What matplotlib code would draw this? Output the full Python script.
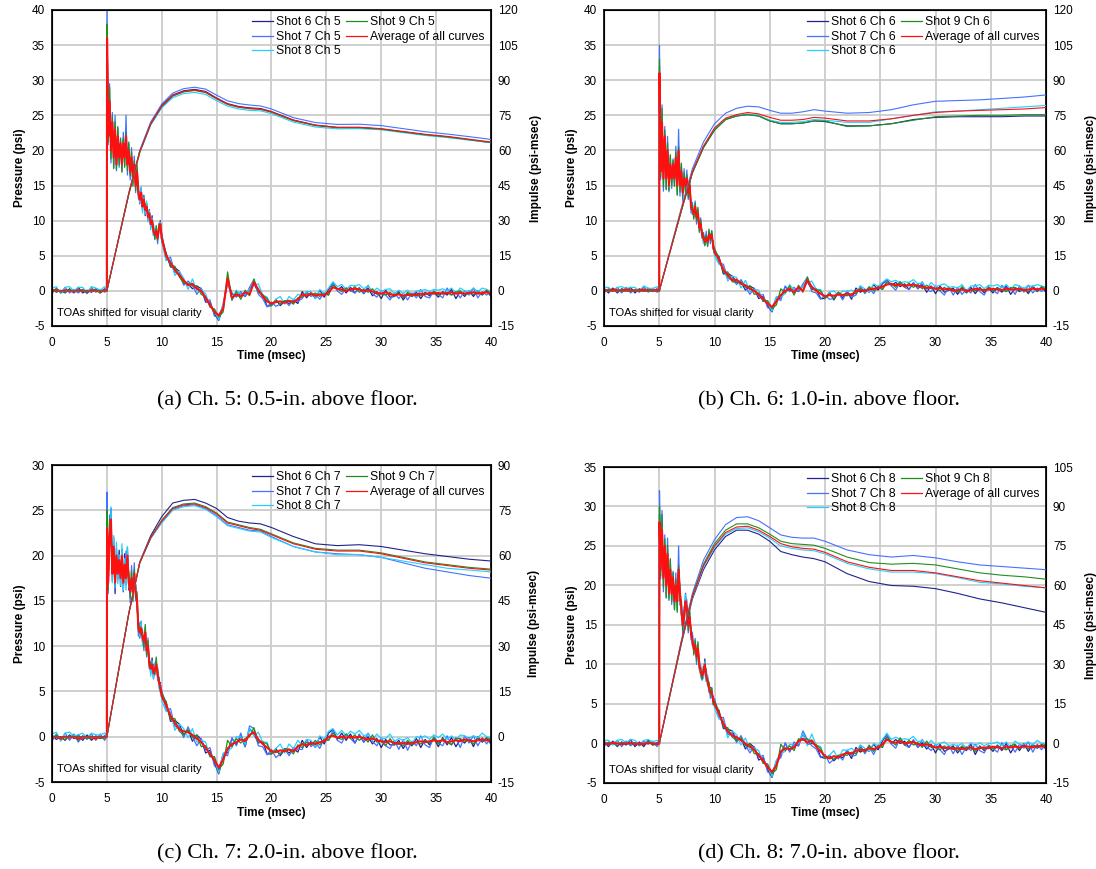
import numpy as np
import matplotlib
matplotlib.use('Agg')
import matplotlib.pyplot as plt
from matplotlib.lines import Line2D

plt.rcParams['font.family'] = ['Liberation Sans', 'DejaVu Sans']
plt.rcParams['axes.unicode_minus'] = False

# time base of the pressure records (msec); TOAs aligned at 5 msec
t_p = np.concatenate([np.arange(0, 5, 0.4), [5.0, 5.02],
                      np.arange(5.125, 10.01, 0.125), np.arange(10.4, 40.01, 0.4)])

# average pressure (psi) for each channel: pre-arrival, jump, 5-10 msec, 10.4-40 msec
p_ch5 = ([0.0, 0.1, -0.1, 0.1, 0.0, -0.1, 0.1, 0.0, -0.1, 0.1, 0.0, -0.1, 0.1]
         + [0.0, 36.0]
         + [22, 27, 20, 24, 19, 23, 18, 22, 19, 21,
            18, 21, 19, 22, 18, 20, 17, 19, 16, 18,
            15, 17, 14, 13, 14, 12, 13, 11.5, 12, 10.5,
            11, 9.5, 10, 8.5, 8, 8.5, 7.5, 9, 9.5, 7.5]
         + [5.0, 4.0, 3.0, 2.2, 1.5, 0.8, 1.0, 0.3, 0.0, -1.0, -2.0, -3.0, -3.5, -2.5, 1.8,
            -1.0, -0.5, -0.8, -0.2, -0.5, 1.2, 0.2, -0.8, -1.5, -1.8, -1.6, -1.5, -1.7, -1.4, -1.6,
            -1.2, -0.5, -0.7, -0.4, -0.7, -0.5, -0.6, -0.2, 0.5, 0.3, 0.2, 0.0, 0.2, 0.3, 0.2,
            0.0, 0.1, -0.1, -0.3, -0.4, -0.2, -0.5, -0.6, -0.5, -0.7, -0.6, -0.5, -0.6, -0.4, -0.5,
            -0.3, -0.4, -0.3, -0.4, -0.3, -0.2, -0.4, -0.3, -0.4, -0.3, -0.2, -0.4, -0.3, -0.2, -0.4])

p_ch6 = ([0.1, 0.0, 0.2, 0.1, 0.0, 0.2, 0.1, 0.0, 0.1, 0.2, 0.0, 0.1, 0.1]
         + [0.0, 31.0]
         + [17, 24, 16, 22, 16, 20, 15, 18, 16, 18,
            16, 19, 15, 20, 15, 17, 14, 16, 15, 16,
            14, 15, 12, 11.5, 11, 12, 10.5, 11, 9, 9.5,
            8, 7.5, 7, 7.5, 7, 8, 7.5, 8, 6.5, 5.5]
         + [4.5, 3.0, 2.2, 1.5, 1.6, 1.0, 0.8, 0.3, 0.0, -0.5, -1.2, -1.8, -2.3, -1.5, -0.6,
            0.0, 0.3, -0.2, 0.5, 0.0, 1.5, 0.6, 0.0, -0.4, -0.8, -0.6, -0.7, -0.5, -0.6, -0.4,
            -0.6, 0.0, 0.1, 0.0, 0.2, 0.3, 0.4, 0.6, 0.9, 1.0, 0.8, 0.9, 0.7, 0.8, 0.9,
            0.7, 0.6, 0.4, 0.5, 0.3, 0.4, 0.2, 0.3, 0.0, 0.1, 0.2, 0.0, 0.1, 0.3, 0.2,
            0.1, 0.2, 0.3, 0.2, 0.1, 0.3, 0.2, 0.2, 0.3, 0.1, 0.2, 0.3, 0.2, 0.3, 0.2])

p_ch7 = ([-0.1, 0.0, -0.2, 0.0, -0.1, 0.0, -0.2, -0.1, 0.0, -0.1, -0.2, 0.0, -0.1]
         + [0.0, 23.0]
         + [17, 22, 24, 18, 21, 17, 20, 18, 19.5, 17.5,
            20, 17, 19, 17.5, 20, 17, 16, 17.5, 16, 18,
            16, 15, 12, 11.5, 12, 11, 10.5, 11.5, 9.5, 10,
            8, 7.5, 8, 7, 7.5, 8, 7, 6, 5.5, 4.5]
         + [3.5, 2.3, 1.5, 0.8, 0.6, 0.5, 0.2, -0.2, -0.6, -1.2, -1.9, -2.6, -3.4, -2.5, -1.3,
            -0.8, -0.6, -0.3, -0.5, 0.2, 0.5, -0.3, -0.8, -1.2, -1.6, -1.7, -1.5, -1.6, -1.4, -1.6,
            -1.1, -0.8, -0.9, -0.7, -0.8, -0.6, -0.5, 0.0, 0.1, -0.1, 0.0, -0.1, 0.0, -0.1, 0.0,
            -0.2, -0.3, -0.2, -0.4, -0.5, -0.6, -0.5, -0.7, -0.8, -0.7, -0.8, -0.7, -0.6, -0.5, -0.6,
            -0.5, -0.4, -0.5, -0.4, -0.6, -0.5, -0.4, -0.5, -0.3, -0.4, -0.5, -0.4, -0.3, -0.4, -0.4])

p_ch8 = ([0.0, -0.1, 0.1, 0.0, -0.1, 0.0, 0.1, -0.1, 0.0, -0.1, 0.1, 0.0, -0.1]
         + [0.0, 28.0]
         + [22, 27, 21, 25, 20, 24, 19, 22, 19, 21,
            18, 20, 18, 22, 19, 17, 15, 16, 18, 17,
            15, 16, 14, 13, 12, 12.5, 11, 12, 10, 9,
            8.5, 9, 10, 8.5, 8, 7, 6.5, 6.5, 5.5, 5]
         + [3.8, 2.5, 1.5, 1.0, 0.8, 0.4, 0.0, -0.4, -0.8, -1.5, -2.2, -3.0, -3.6, -2.8, -1.0,
            -0.6, -0.7, -0.5, 0.3, 0.6, 0.1, 0.4, -0.4, -1.0, -1.6, -1.9, -1.6, -1.8, -1.4, -1.2,
            -1.3, -0.9, -0.8, -0.9, -0.6, -0.7, -0.5, -0.1, 0.5, 0.2, 0.1, 0.3, 0.0, 0.1, 0.2,
            -0.1, -0.2, -0.1, -0.3, -0.5, -0.4, -0.6, -0.5, -0.7, -0.6, -0.7, -0.6, -0.5, -0.7, -0.6,
            -0.5, -0.6, -0.4, -0.5, -0.6, -0.4, -0.5, -0.4, -0.5, -0.3, -0.4, -0.5, -0.3, -0.4, -0.3])

# deviation of each shot from the average trace (psi)
dev_s6 = ([0.3, -0.3, 0.2, -0.4, 0.3, -0.2, 0.4, -0.3, 0.2, -0.3, 0.3, -0.2, 0.2]
          + [0.0, 1.0]
          + [1.5, -1.0, 1.2, -0.8, 1.0, -1.2, 0.8, -0.6, 1.1, -0.9,
             0.7, -1.0, 1.2, -0.7, 0.9, -0.8, 0.6, -0.9, 1.0, -0.6,
             0.8, -0.7, 0.5, -0.6, 0.7, -0.5, 0.6, -0.8, 0.5, -0.4,
             0.6, -0.5, 0.7, -0.6, 0.4, -0.5, 0.6, -0.4, 0.5, -0.3]
          + [0.4, -0.6, 0.3, 0.6, -0.4, 0.2, -0.7, 0.4, 0.3, -0.6, 0.4, -0.3, -0.7, 0.3, -0.4,
             0.6, -0.3, 0.4, -0.6, 0.7, -0.2, -0.4, 0.3, -0.7, -0.3, 0.4, -0.6, 0.2, -0.4, 0.3,
             -0.6, 0.4, -0.3, 0.2, -0.4, 0.6, -0.3, 0.4, 0.7, -0.2, 0.4, -0.3, 0.3, -0.6, 0.2,
             -0.4, 0.3, -0.6, 0.2, -0.7, 0.3, -0.4, -0.2, 0.4, -0.6, 0.2, -0.3, 0.4, -0.7, 0.3,
             -0.4, 0.2, -0.6, 0.3, -0.3, 0.4, -0.7, 0.2, -0.4, 0.3, -0.6, 0.4, -0.3, 0.2, -0.4])

dev_s7 = ([-0.4, 0.3, -0.2, 0.4, -0.3, 0.3, -0.4, 0.2, -0.3, 0.4, -0.2, 0.3, -0.3]
          + [0.0, 4.0]
          + [-1.2, 2.5, -1.8, 1.4, -1.5, 2.0, -0.9, 1.2, -1.4, 0.8,
             -1.0, 1.6, -1.2, 3.0, -1.5, 1.0, -1.2, 1.4, -0.8, 1.2,
             -1.0, 0.7, -0.9, 1.1, -0.6, 0.8, -1.0, 0.6, -0.7, 0.9,
             -0.5, 0.8, -0.6, 1.0, -0.7, 0.5, -0.8, 0.6, -0.5, 0.7]
          + [-0.6, 0.8, -0.4, 0.3, -0.7, 0.6, -0.2, -0.8, 0.4, -0.3, 0.7, -0.6, -0.3, 0.6, -0.8,
             0.7, -0.4, 0.7, -0.6, 1.0, 0.4, -0.7, -0.3, -0.8, 0.2, -0.6, -0.4, 0.3, -0.7, 0.4,
             -0.3, -0.6, 0.6, -0.4, 0.2, -0.7, 0.3, -0.4, 0.6, -0.3, -0.7, 0.4, -0.2, -0.6, 0.3,
             -0.4, 0.7, -0.3, -0.6, 0.4, -0.4, -0.8, 0.3, -0.6, 0.4, -0.7, 0.2, -0.4, 0.6, -0.3,
             -0.7, 0.4, -0.2, -0.6, 0.7, -0.4, 0.3, -0.7, 0.4, -0.3, 0.6, -0.6, 0.2, -0.4, 0.4])

dev_s8 = ([0.4, 0.5, -0.3, 0.4, 0.6, 0.1, 0.4, 0.5, -0.1, 0.5, 0.4, 0.2, 0.5]
          + [0.0, -1.0]
          + [0.8, -1.5, 1.4, -1.0, 1.2, -0.6, 1.5, -1.1, 0.6, -0.8,
             1.3, -0.9, 0.7, -1.3, 1.0, -0.5, 1.1, -0.7, 0.9, -1.2,
             0.6, -1.0, 0.9, -0.5, 0.8, -0.9, 0.4, -0.6, 0.8, -0.7,
             0.5, -0.8, 0.4, -0.6, 0.7, -0.4, 0.5, -0.7, 0.3, -0.5]
          + [-0.7, 0.4, -0.8, 0.6, 0.3, -0.6, 0.7, -0.4, 0.2, 0.6, -0.3, 0.4, -0.6, 0.7, -0.3,
             -0.4, 0.6, 0.3, -0.3, 0.7, -0.4, 0.8, 0.2, 0.6, -0.3, 0.4, 0.7, -0.2, 0.6, 0.3,
             0.7, -0.2, 0.6, 0.3, -0.4, 0.7, 0.2, 0.6, 0.8, 0.3, 0.7, 0.2, 0.6, 0.4, 0.7,
             0.3, 0.6, -0.2, 0.7, 0.3, 0.4, 0.8, 0.2, 0.6, 0.3, 0.7, 0.0, 0.6, 0.4, 0.7,
             0.2, 0.6, 0.4, 0.7, 0.3, 0.6, 0.0, 0.7, 0.4, 0.2, 0.6, 0.3, 0.7, 0.4, 0.3])

dev_s9 = ([-0.1, 0.2, 0.0, -0.3, 0.2, 0.0, -0.2, 0.2, -0.2, 0.0, 0.2, -0.2, 0.0]
          + [0.0, 2.0]
          + [-0.8, 2.0, -1.2, 0.9, -1.6, 1.1, -0.7, 1.4, -1.0, 0.6,
             -1.1, 0.8, -1.4, 0.5, -0.9, 1.2, -0.6, 0.8, -1.1, 0.5,
             -0.7, 1.0, -0.4, 0.7, -0.8, 0.5, -0.6, 0.9, -0.5, 0.6,
             -0.4, 0.7, -0.5, 0.4, -0.6, 0.8, -0.3, 0.5, -0.6, 0.4]
          + [0.3, -0.4, 0.5, -0.2, -0.4, 0.3, -0.3, 0.4, -0.5, 0.2, -0.3, 0.4, -0.2, -0.5, 0.9,
             -0.3, 0.4, -0.4, 0.3, -0.2, 0.5, -0.3, 0.2, 0.4, -0.3, 0.2, -0.4, 0.3, 0.0, -0.3,
             0.2, -0.4, 0.3, -0.2, 0.4, -0.3, 0.2, -0.4, 0.3, 0.0, -0.3, 0.4, -0.2, 0.3, -0.4,
             0.2, -0.3, 0.4, -0.2, 0.0, -0.4, 0.3, -0.2, 0.2, -0.3, 0.4, -0.2, 0.0, -0.3, 0.2,
             -0.2, 0.3, -0.3, 0.2, 0.0, -0.4, 0.2, 0.3, -0.2, 0.0, -0.3, 0.2, -0.2, 0.3, 0.0])

# impulse (psi-msec)
t_imp = [0, 5, 6, 7, 8, 9, 10, 11, 12, 13, 14, 15, 16, 17, 18, 19, 20,
         22, 24, 26, 28, 30, 32, 34, 36, 38, 40]

imp5_s6 = [0, 0, 20.8, 41.6, 59.6, 71.6, 79.2, 83.7, 85.5, 86.1, 85.2, 82.4, 80.0, 78.8, 78.2, 77.9, 76.6, 73.0, 70.8, 69.8, 69.8, 69.1, 67.9, 66.7, 65.8, 64.6, 63.3]
imp5_s7 = [0, 0, 20.9, 41.8, 60.0, 72.2, 79.8, 84.5, 86.4, 87.0, 86.2, 83.6, 81.2, 80.0, 79.4, 79.0, 77.7, 74.0, 71.9, 71.1, 71.2, 70.6, 69.3, 68.0, 67.0, 65.9, 64.7]
imp5_s8 = [0, 0, 20.6, 41.1, 58.9, 70.8, 78.2, 82.5, 84.3, 84.8, 83.9, 81.2, 78.9, 77.7, 77.1, 76.9, 75.7, 72.1, 70.0, 69.2, 69.3, 68.8, 67.6, 66.4, 65.5, 64.4, 63.3]
imp5_s9 = [0, 0, 20.7, 41.3, 59.3, 71.2, 78.7, 83.2, 85.0, 85.6, 84.7, 82.0, 79.6, 78.4, 77.8, 77.5, 76.3, 72.7, 70.6, 69.7, 69.7, 69.1, 67.9, 66.7, 65.8, 64.6, 63.4]
imp5_avg = [0, 0, 20.7, 41.4, 59.4, 71.4, 78.9, 83.4, 85.2, 85.8, 84.9, 82.2, 79.8, 78.6, 78.0, 77.7, 76.5, 72.9, 70.8, 69.9, 69.9, 69.3, 68.1, 66.9, 66.0, 64.8, 63.6]

imp6_s6 = [0, 0, 17.1, 34.2, 50.4, 61.2, 68.7, 73.2, 74.7, 75.3, 74.7, 72.6, 71.4, 71.4, 71.7, 72.6, 72.3, 70.5, 70.5, 71.4, 73.2, 74.1, 74.4, 74.4, 74.4, 74.7, 74.7]
imp6_s7 = [0, 0, 17.7, 35.4, 52.2, 63.6, 71.4, 75.9, 78.0, 78.9, 78.6, 77.1, 75.9, 75.9, 76.5, 77.4, 76.8, 75.9, 76.2, 77.4, 79.5, 81.0, 81.3, 81.6, 82.2, 82.8, 83.7]
imp6_s8 = [0, 0, 17.4, 34.8, 51.0, 61.8, 69.3, 73.5, 75.0, 75.6, 75.0, 72.9, 72.0, 72.0, 72.3, 73.2, 72.9, 72.0, 72.0, 73.5, 75.0, 76.5, 76.8, 77.4, 78.0, 78.6, 79.2]
imp6_s9 = [0, 0, 17.1, 34.2, 50.4, 61.2, 68.7, 73.2, 74.7, 75.3, 74.7, 72.6, 71.4, 71.4, 71.7, 72.6, 72.6, 70.2, 70.5, 71.4, 72.9, 74.4, 74.7, 75.0, 75.0, 75.3, 75.3]
imp6_avg = [0, 0, 17.4, 34.8, 51.0, 61.8, 69.6, 73.8, 75.3, 76.2, 75.6, 74.1, 72.9, 72.9, 73.2, 74.1, 73.8, 72.6, 72.6, 73.5, 75.0, 76.2, 76.8, 77.1, 77.4, 77.7, 78.3]

imp7_s6 = [0, 0, 20.4, 40.8, 57.9, 66.6, 72.9, 77.4, 78.3, 78.6, 77.4, 75.6, 72.6, 71.4, 70.8, 70.5, 69.3, 66.3, 63.9, 63.3, 63.6, 63.0, 61.8, 60.6, 59.7, 58.8, 58.2]
imp7_s7 = [0, 0, 20.4, 40.8, 57.6, 65.7, 71.1, 75.3, 76.5, 76.8, 75.6, 73.2, 70.2, 69.3, 68.4, 68.1, 66.3, 63.0, 61.2, 60.6, 60.3, 59.4, 57.6, 55.8, 54.6, 53.4, 52.5]
imp7_s8 = [0, 0, 20.4, 40.8, 57.6, 65.7, 70.8, 75.0, 76.2, 76.5, 75.3, 72.9, 69.9, 69.0, 68.1, 67.8, 66.0, 63.0, 61.2, 60.3, 60.3, 59.4, 58.2, 57.0, 55.8, 55.2, 54.6]
imp7_s9 = [0, 0, 20.4, 40.8, 57.6, 66.0, 71.7, 75.9, 77.1, 77.4, 76.2, 74.1, 71.1, 70.2, 69.3, 68.7, 67.2, 64.2, 62.4, 61.8, 61.8, 60.9, 59.4, 57.9, 57.0, 56.1, 55.5]
imp7_avg = [0, 0, 20.4, 40.8, 57.6, 66.0, 71.4, 75.6, 76.8, 77.1, 75.9, 73.8, 70.8, 69.9, 69.0, 68.4, 66.9, 63.9, 62.1, 61.5, 61.5, 60.6, 59.1, 57.6, 56.7, 55.8, 55.2]

imp8_s6 = [0, 0, 18.9, 37.8, 54.9, 66.0, 73.5, 78.6, 81.0, 81.0, 79.5, 76.8, 72.9, 71.7, 70.8, 70.2, 69.0, 64.5, 61.5, 60.0, 59.7, 58.8, 57.0, 54.9, 53.4, 51.6, 49.8]
imp8_s7 = [0, 0, 19.5, 39.0, 57.0, 69.6, 77.4, 83.1, 85.8, 86.1, 84.6, 81.9, 79.2, 78.3, 78.0, 78.0, 76.8, 73.5, 71.7, 70.8, 71.4, 70.5, 69.0, 67.8, 67.2, 66.6, 66.0]
imp8_s8 = [0, 0, 19.2, 38.4, 55.5, 66.9, 74.4, 79.5, 81.6, 81.9, 80.4, 78.0, 75.0, 74.1, 73.5, 73.2, 72.0, 68.4, 66.3, 65.1, 65.1, 64.5, 63.0, 61.2, 60.6, 59.7, 59.1]
imp8_s9 = [0, 0, 19.2, 38.7, 56.1, 68.1, 75.9, 81.0, 83.4, 83.4, 81.9, 79.5, 76.8, 75.9, 75.6, 75.3, 74.1, 70.8, 68.7, 68.1, 68.4, 67.8, 66.3, 64.8, 63.9, 63.3, 62.4]
imp8_avg = [0, 0, 19.2, 38.4, 55.8, 67.5, 75.0, 80.1, 82.2, 82.5, 81.0, 78.6, 75.9, 74.7, 74.1, 73.8, 72.6, 69.0, 66.9, 65.7, 65.7, 64.8, 63.3, 61.8, 60.9, 60.0, 59.1]

channels = [5, 6, 7, 8]
pmax = [40, 40, 30, 35]
captions = ['(a) Ch. 5: 0.5-in. above floor.', '(b) Ch. 6: 1.0-in. above floor.',
            '(c) Ch. 7: 2.0-in. above floor.', '(d) Ch. 8: 7.0-in. above floor.']
shots = [6, 7, 8, 9]
shot_colors = ['#22228f', '#4472ff', '#22d0ff', '#1f8f1f']
avg_color = '#ff1010'

pressures = [p_ch5, p_ch6, p_ch7, p_ch8]
devs = [dev_s6, dev_s7, dev_s8, dev_s9]
impulses = [[imp5_s6, imp5_s7, imp5_s8, imp5_s9, imp5_avg],
            [imp6_s6, imp6_s7, imp6_s8, imp6_s9, imp6_avg],
            [imp7_s6, imp7_s7, imp7_s8, imp7_s9, imp7_avg],
            [imp8_s6, imp8_s7, imp8_s8, imp8_s9, imp8_avg]]

for arr in pressures + devs:
    assert len(arr) == len(t_p), len(arr)

boxes = [[0.0474, 0.6249, 0.4006, 0.3636], [0.5511, 0.6249, 0.4033, 0.3636],
         [0.0474, 0.1001, 0.4006, 0.3648], [0.5511, 0.0990, 0.4033, 0.3636]]
cap_pos = [(0.262, 0.539), (0.756, 0.539), (0.262, 0.017), (0.756, 0.017)]

fig = plt.figure(figsize=(10.96, 8.69), dpi=100)

for i, ch in enumerate(channels):
    ax = fig.add_axes(boxes[i])
    avg = np.array(pressures[i])
    for s, col, dev in zip(shots, shot_colors, devs):
        ax.plot(t_p, avg + np.array(dev), color=col, lw=0.9)
    ax.plot(t_p, avg, color=avg_color, lw=1.5)
    ax.set_xlim(0, 40)
    ax.set_ylim(-5, pmax[i])
    ax.set_xticks(range(0, 41, 5))
    ax.set_yticks(range(-5, pmax[i] + 1, 5))
    ax.grid(True, color='#cccccc', lw=1.3)
    ax.set_axisbelow(True)
    ax.tick_params(axis='y', length=0, labelsize=8.5, pad=5)
    ax.tick_params(axis='x', length=0, labelsize=8.5, pad=8)
    ax.set_xlabel('Time (msec)', fontsize=8.5, fontweight='bold', labelpad=1)
    ax.set_ylabel('Pressure (psi)', fontsize=8.5, fontweight='bold', labelpad=4)
    ax.text(0.012, 0.042, 'TOAs shifted for visual clarity', transform=ax.transAxes,
            fontsize=8, va='center', ha='left')
    for sp in ax.spines.values():
        sp.set_linewidth(1.2)

    ax2 = ax.twinx()
    ax2.set_ylim(-15, 3 * pmax[i])
    ax2.set_yticks(range(-15, 3 * pmax[i] + 1, 15))
    ax2.tick_params(length=0, labelsize=8.5, pad=5)
    ax2.set_ylabel('Impulse (psi-msec)', fontsize=8.5, fontweight='bold', labelpad=9)
    for k, col in enumerate(shot_colors):
        ax2.plot(t_imp, impulses[i][k], color=col, lw=0.8)
    ax2.plot(t_imp, impulses[i][4], color=avg_color, lw=0.8)

    handles = [Line2D([], [], color=c, lw=0.9) for c in shot_colors + [avg_color]]
    labels = ['Shot %d Ch %d' % (s, ch) for s in shots] + ['Average of all curves']
    ax2.legend(handles, labels, ncol=2, loc='upper right', bbox_to_anchor=(1.0, 1.0),
               frameon=False, fontsize=8.8, handlelength=1.7, handletextpad=0.3,
               columnspacing=0.4, labelspacing=0.22, borderaxespad=0.3, borderpad=0.2)

    fig.text(cap_pos[i][0], cap_pos[i][1], captions[i], ha='center', va='center',
             fontsize=16, family=['Liberation Serif', 'DejaVu Serif'])

fig.savefig('out.png', dpi=100)
